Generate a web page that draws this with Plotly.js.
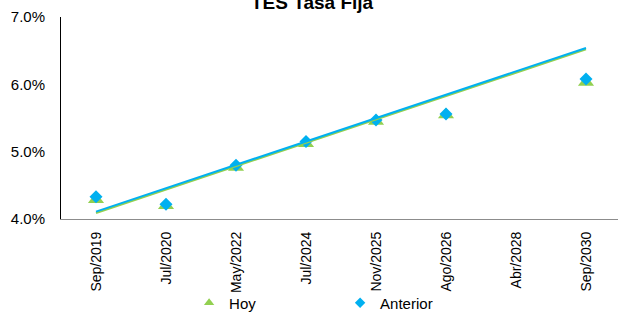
<!DOCTYPE html>
<html>
<head>
<meta charset="utf-8">
<script src="https://cdn.plot.ly/plotly-3.0.1.min.js"></script>
<style>html,body{margin:0;padding:0;background:#fff;}#chart{width:618px;height:312px;}</style>
</head>
<body>
<div id="chart"></div>
<script>
// ---- data (percent) ----
const categories = ["Sep/2019", "Jul/2020", "May/2022", "Jul/2024", "Nov/2025", "Ago/2026", "Abr/2028", "Sep/2030"];
const hoy      = [4.29, 4.20, 4.77, 5.12, 5.45, 5.55, null, 6.03];
const anterior = [4.33, 4.22, 4.80, 5.15, 5.47, 5.56, null, 6.08];
// linear trend lines as drawn (values at first and last category)
const trendCategories = ["Sep/2019", "Sep/2030"];
const trendHoy      = [4.09, 6.52];
const trendAnterior = [4.11, 6.54];
const yTicks = [4, 5, 6, 7];
const yTickLabels = ["4.0%", "5.0%", "6.0%", "7.0%"];

const GREEN = "#92d050";
const BLUE = "#00b0f0";

const traces = [
  {x: categories, y: hoy, type: "scatter", mode: "markers", name: "Hoy", showlegend: false,
   marker: {symbol: "triangle-up", size: 14, color: GREEN}},
  {x: categories, y: anterior, type: "scatter", mode: "markers", name: "Anterior", showlegend: false,
   marker: {symbol: "diamond", size: 10, color: BLUE}},
  {x: trendCategories, y: trendHoy, type: "scatter", mode: "lines", name: "Lineal (Hoy)", showlegend: false,
   line: {color: GREEN, width: 2}},
  {x: trendCategories, y: trendAnterior, type: "scatter", mode: "lines", name: "Lineal (Anterior)", showlegend: false,
   line: {color: BLUE, width: 2}},
  // legend entries
  {x: [null], y: [null], type: "scatter", mode: "markers", name: "Hoy",
   marker: {symbol: "triangle-up", size: 9, color: GREEN}},
  {x: [null], y: [null], type: "scatter", mode: "markers", name: "Anterior",
   marker: {symbol: "diamond", size: 8, color: BLUE}}
];

const layout = {
  width: 618, height: 312,
  margin: {l: 61, r: 0, t: 17, b: 93, pad: 0},
  paper_bgcolor: "#ffffff", plot_bgcolor: "#ffffff",
  font: {family: "Liberation Sans, Arial, sans-serif", size: 14, color: "#000"},
  title: {text: "<b>TES Tasa Fija</b>", font: {size: 19, color: "#000"},
          x: 0.505, xanchor: "center", xref: "container", yref: "container", y: 0.9925, yanchor: "middle"},
  showlegend: true,
  legend: {orientation: "h", xref: "container", yref: "container", x: 0.306, xanchor: "left",
           y: 0.029, yanchor: "middle",
           entrywidth: 106, entrywidthmode: "pixels", itemwidth: 30,
           font: {size: 15}, bgcolor: "rgba(0,0,0,0)"},
  xaxis: {type: "category", categoryarray: categories, categoryorder: "array",
          range: [-0.5, 7.457], showgrid: false, zeroline: false, automargin: false,
          showline: true, linecolor: "#8c8c8c", linewidth: 1,
          ticks: "", tickangle: -90, tickfont: {size: 14}, ticklabelstandoff: 6, fixedrange: true},
  yaxis: {range: [4, 7], tickvals: yTicks, ticktext: yTickLabels, automargin: false,
          showgrid: false, zeroline: false, showline: true, linecolor: "#000", linewidth: 1,
          ticks: "", ticklabelstandoff: 12, tickfont: {size: 15}, fixedrange: true}
};

Plotly.newPlot("chart", traces, layout, {displayModeBar: false, staticPlot: true});
</script>
</body>
</html>
